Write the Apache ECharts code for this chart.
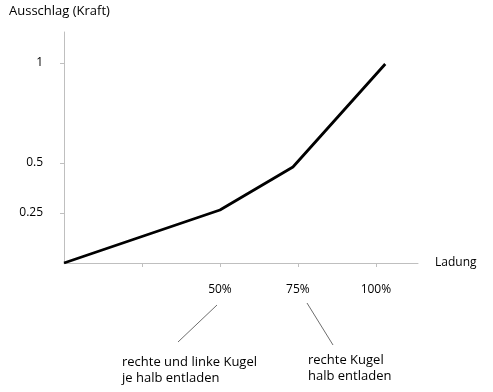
<!DOCTYPE html>
<html>
<head>
<meta charset="utf-8">
<script src="https://cdn.jsdelivr.net/npm/echarts@6/dist/echarts.min.js"></script>
<style>html,body{margin:0;padding:0;background:#fff}#c{width:493px;height:392px}</style>
</head>
<body>
<div id="c"></div>
<script>
// Data (x: Ladung in %, y: Ausschlag)
const ladung = [0, 50, 73.4, 103];
const ausschlag = [0, 0.265, 0.48, 0.995];
const xTickValues = [25, 50, 75, 100];
const xLabelValues = [50, 75, 100];
const yTickValues = [0.25, 0.5, 1];
const yAxisTitle = 'Ausschlag (Kraft)';
const xAxisTitle = 'Ladung';
const note1 = 'rechte und linke Kugel\nje halb entladen';
const note2 = 'rechte Kugel\nhalb entladen';

const font = '"Open Sans", "DejaVu Sans", sans-serif';
const chart = echarts.init(document.getElementById('c'));
chart.setOption({
  animation: false,
  backgroundColor: '#fff',
  textStyle: { fontFamily: font },
  grid: { left: 64, top: 32, right: 75, bottom: 129, containLabel: false },
  xAxis: {
    type: 'value', min: 0, max: 113.5,
    name: xAxisTitle, nameLocation: 'end', nameGap: 17,
    nameTextStyle: { color: '#000', fontSize: 12, fontFamily: font },
    axisLine: { lineStyle: { color: '#bfbfbf', width: 1 } },
    axisTick: { show: true, customValues: xTickValues, inside: false, length: 4,
      lineStyle: { color: '#bfbfbf' } },
    axisLabel: { customValues: xLabelValues, margin: 21, color: '#000', fontSize: 12,
      fontFamily: font, formatter: v => v + '%' },
    splitLine: { show: false }
  },
  yAxis: {
    type: 'value', min: 0, max: 1.155,
    axisLine: { show: true, lineStyle: { color: '#bfbfbf', width: 1 } },
    axisTick: { show: true, customValues: yTickValues, length: 4,
      lineStyle: { color: '#bfbfbf' } },
    axisLabel: { customValues: yTickValues, margin: 21, color: '#000', fontSize: 12,
      fontFamily: font, formatter: v => String(v) },
    splitLine: { show: false }
  },
  series: [{
    type: 'line',
    data: ladung.map((x, i) => [x, ausschlag[i]]),
    symbol: 'none',
    lineStyle: { color: '#000', width: 2.8 },
    z: 5
  }],
  graphic: [
    { type: 'text', left: 9, top: 5,
      style: { text: yAxisTitle, fill: '#000', font: '13px ' + font } },
    { type: 'line', shape: { x1: 217, y1: 305, x2: 178, y2: 342 },
      style: { stroke: '#6e6e6e', lineWidth: 1 } },
    { type: 'line', shape: { x1: 307, y1: 303, x2: 333, y2: 345 },
      style: { stroke: '#6e6e6e', lineWidth: 1 } },
    { type: 'text', left: 122, top: 354,
      style: { text: note1, fill: '#000', font: '13px ' + font, lineHeight: 16 } },
    { type: 'text', left: 308, top: 352,
      style: { text: note2, fill: '#000', font: '13px ' + font, lineHeight: 16 } }
  ]
});
</script>
</body>
</html>
